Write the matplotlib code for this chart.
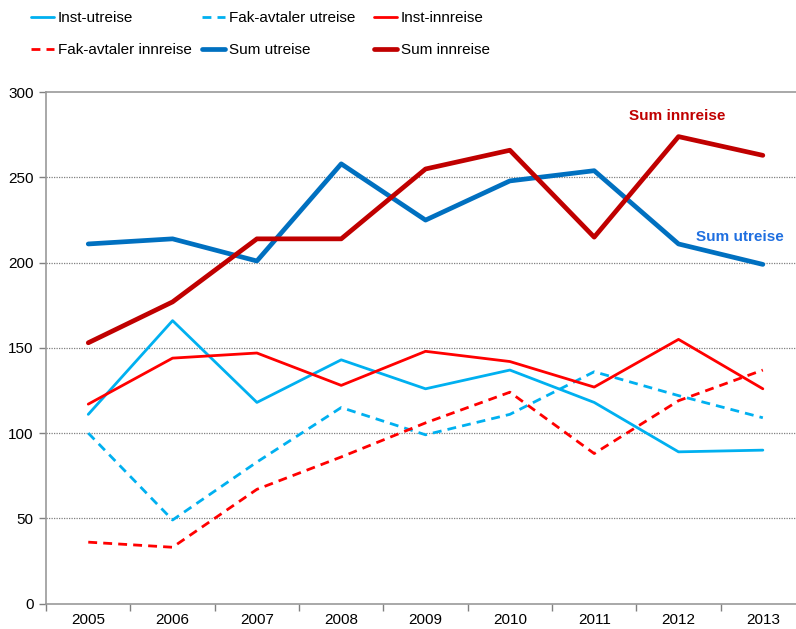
import matplotlib
matplotlib.use("Agg")
import matplotlib.pyplot as plt
import numpy as np

years = ["2005", "2006", "2007", "2008", "2009", "2010", "2011", "2012", "2013"]
inst_utreise = [111, 166, 118, 143, 126, 137, 118, 89, 90]
fak_utreise = [100, 49, 83, 115, 99, 111, 136, 122, 109]
inst_innreise = [117, 144, 147, 128, 148, 142, 127, 155, 126]
fak_innreise = [36, 33, 67, 86, 106, 124, 88, 119, 137]
sum_utreise = [211, 214, 201, 258, 225, 248, 254, 211, 199]
sum_innreise = [153, 177, 214, 214, 255, 266, 215, 274, 263]

yticks = [0, 50, 100, 150, 200, 250, 300]

LIGHT = "#00B0F0"
RED = "#FF0000"
BLUE = "#0070C0"
DARK = "#C00000"

plt.rcParams['font.family'] = ['Liberation Sans', 'DejaVu Sans']

fig = plt.figure(figsize=(7.96, 6.29), dpi=100)
W, H = 796, 629
left, right = 46.1, 805.0
bottom, top = 603.5, 92.3
ax = fig.add_axes([left / W, (H - bottom) / H, (right - left) / W, (bottom - top) / H])

x = np.arange(len(years))
dash = (0, (3.2, 2.2))
series = [
    ("Inst-utreise", inst_utreise, LIGHT, '-', 2.0),
    ("Fak-avtaler utreise", fak_utreise, LIGHT, dash, 2.0),
    ("Inst-innreise", inst_innreise, RED, '-', 2.0),
    ("Fak-avtaler innreise", fak_innreise, RED, dash, 2.0),
    ("Sum utreise", sum_utreise, BLUE, '-', 3.4),
    ("Sum innreise", sum_innreise, DARK, '-', 3.4),
]
handles = []
for name, vals, col, ls, lw in series:
    h, = ax.plot(x, vals, color=col, linestyle=ls, linewidth=lw, label=name,
                 solid_capstyle='round', dash_capstyle='butt', zorder=3)
    handles.append(h)

ax.set_xlim(-0.5, len(years) - 0.5)
ax.set_ylim(0, 300)
ax.set_yticks(yticks)
ax.set_yticklabels([str(v) for v in yticks], fontsize=11)
ax.set_xticks(x)
ax.set_xticklabels(years, fontsize=11)
ax.tick_params(axis='x', which='major', length=0, pad=7)
ax.set_xticks(np.arange(-0.5, len(years), 1.0), minor=True)
ax.tick_params(axis='x', which='minor', length=5, color='#808080', width=1)
ax.tick_params(axis='y', length=5, color='#808080', width=1, pad=4)

for v in yticks[1:-1]:
    ax.axhline(v, color='#808080', linewidth=0.9, linestyle=(0, (1, 1)), zorder=1)

for s in ['left', 'bottom', 'top']:
    ax.spines[s].set_color('#999999')
    ax.spines[s].set_linewidth(1.2)
ax.spines['right'].set_visible(False)

ax.text(6.98, 286, "Sum innreise", color=DARK, fontsize=11, fontweight='bold',
        ha='center', va='center')
ax.text(7.73, 215, "Sum utreise", color="#1F6FE0", fontsize=11, fontweight='bold',
        ha='center', va='center')

# legend: three columns of two rows
cols = [(0, 3), (1, 4), (2, 5)]
xs = [31, 202, 374]
for (a, b), px in zip(cols, xs):
    fig.legend([handles[a], handles[b]], [series[a][0], series[b][0]],
               loc='upper left', bbox_to_anchor=(px / W, 1 - 11 / H),
               frameon=False, prop={'size': 11},
               handlelength=1.5, handletextpad=0.25, labelspacing=1.18,
               borderaxespad=0, borderpad=0)

fig.savefig("out.png", dpi=100)
